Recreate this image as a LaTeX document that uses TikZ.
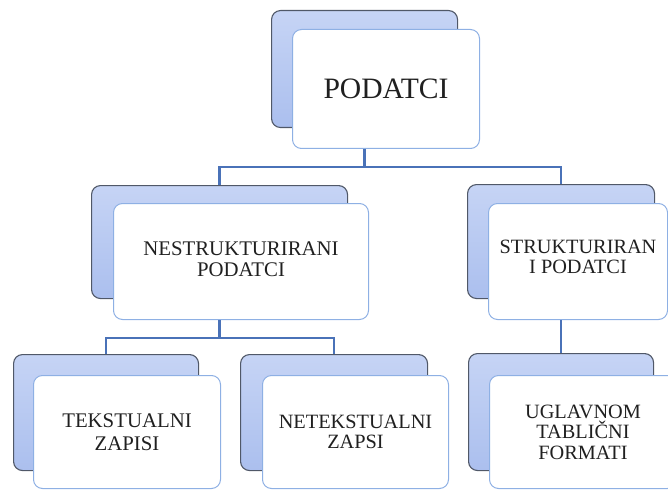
\documentclass[tikz,border=0pt]{standalone}
\usepackage{fontspec}
\setmainfont{Liberation Serif}
\definecolor{backtop}{HTML}{C6D4F5}
\definecolor{backbot}{HTML}{ABBFEE}
\definecolor{backline}{HTML}{505868}
\definecolor{frontline}{HTML}{8EB0E4}
\definecolor{conncol}{HTML}{4A72B8}
\definecolor{txt}{HTML}{202020}
\tikzset{
  backbox/.style={rectangle, rounded corners=9pt, draw=backline, line width=1.1pt,
    top color=backtop, bottom color=backbot, anchor=north west, inner sep=0pt},
  frontbox/.style={rectangle, rounded corners=9pt, draw=frontline, line width=1pt,
    fill=white, anchor=north west, inner sep=0pt, align=center, text=txt,
    font=\fontsize{20.8}{21}\selectfont},
  link/.style={draw=conncol, line width=2.2pt}
}
\begin{document}
\begin{tikzpicture}[x=1pt,y=-1pt]
\useasboundingbox (0,0) rectangle (668,489);
\clip (0,0) rectangle (668,489);
% level 0
\node[backbox, minimum width=186pt, minimum height=117pt] (b0) at (271,10) {};
\node[frontbox, minimum width=187pt, minimum height=119pt, font=\fontsize{29.6}{32}\selectfont] (f0) at (292,29) {PODATCI};
% level 1
\node[backbox, minimum width=256pt, minimum height=113pt] (b1) at (91,185) {};
\node[frontbox, minimum width=255pt, minimum height=116pt, text depth=4pt] (f1) at (113,203) {NESTRUKTURIRANI\\PODATCI};
\node[backbox, minimum width=187pt, minimum height=114pt] (b2) at (467,184) {};
\node[frontbox, minimum width=179pt, minimum height=116pt, text depth=9pt, font=\fontsize{20.3}{20}\selectfont] (f2) at (488,203) {STRUKTURIRAN\\I PODATCI};
% level 2
\node[backbox, minimum width=185pt, minimum height=116pt] (b3) at (13,354) {};
\node[frontbox, minimum width=187pt, minimum height=113pt, font=\fontsize{20.8}{23}\selectfont] (f3) at (33,375) {TEKSTUALNI\\ZAPISI};
\node[backbox, minimum width=187pt, minimum height=116pt] (b4) at (240,354) {};
\node[frontbox, minimum width=186pt, minimum height=113pt, font=\fontsize{20.3}{20}\selectfont] (f4) at (262,375) {NETEKSTUALNI\\ZAPSI};
\node[backbox, minimum width=185pt, minimum height=117pt] (b5) at (468,353) {};
\node[frontbox, minimum width=187pt, minimum height=113pt, font=\fontsize{20.3}{20.5}\selectfont] (f5) at (489,375) {UGLAVNOM\\TABLIČNI\\FORMATI};
% connectors
\draw[link] (b0.center |- f0.south) -- ++(0,18) coordinate (j0);
\draw[link] (j0) -| (b1.north);
\draw[link] (j0) -| (b2.north);
\draw[link] (b1.center |- f1.south) -- ++(0,18) coordinate (j1);
\draw[link] (j1) -| (b3.north);
\draw[link] (j1) -| (b4.north);
\draw[link] (b2.center |- f2.south) -- (b5.north);
\end{tikzpicture}
\end{document}
